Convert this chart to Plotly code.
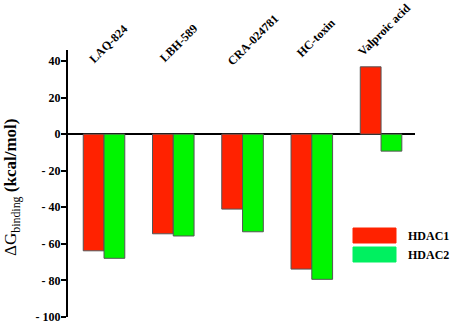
import plotly.graph_objects as go

compounds = ["LAQ-824", "LBH-589", "CRA-024781", "HC-toxin", "Valproic acid"]
hdac1 = [-63.8, -54.5, -41.0, -73.8, 36.8]
hdac2 = [-67.9, -55.7, -53.4, -79.4, -9.3]
series_names = ["HDAC1", "HDAC2"]
ytick_vals = [40, 20, 0, -20, -40, -60, -80, -100]
ytick_text = ["40", "20", "0", "- 20", "- 40", "- 60", "- 80", "- 100"]

RED = "#FF2200"
GREEN = "#00F500"
GREEN_LEG = "#00F060"
FONT = "Liberation Serif"

PL, PR, PT, PB = 68, 415, 50, 317
PW, PH = PR - PL, PB - PT


def px(xp):
    return (xp - PL) / PW


def py(yp):
    return (PB - yp) / PH


xs = list(range(len(compounds)))

fig = go.Figure()
fig.add_trace(go.Bar(x=xs, y=hdac1, name=series_names[0], marker=dict(color=RED, line=dict(color="#555555", width=1)), showlegend=False))
fig.add_trace(go.Bar(x=xs, y=hdac2, name=series_names[1], marker=dict(color=GREEN, line=dict(color="#555555", width=1)), showlegend=False))

# category labels (rotated) placed above the bars
label_dx = [-0.3, -0.27, -0.3, -0.3, -0.42]
label_y = [36.0, 36.5, 34.5, 39.0, 39.8]
for i, name in enumerate(compounds):
    fig.add_annotation(x=i + label_dx[i], y=label_y[i], xref="x", yref="y", text="<b>%s</b>" % name,
                       textangle=-45, showarrow=False, xanchor="left", yanchor="bottom",
                       font=dict(family=FONT, size=12, color="black"))

# manual legend
leg_colors = [RED, GREEN_LEG]
for k, (nm, col) in enumerate(zip(series_names, leg_colors)):
    y0 = 228 + k * 19
    fig.add_shape(type="rect", xref="paper", yref="paper",
                  x0=px(353), x1=px(396), y0=py(y0 + 15), y1=py(y0),
                  fillcolor=col, line=dict(color=col, width=1))
    fig.add_annotation(xref="paper", yref="paper", x=px(406), y=py(y0 + 7.5),
                       text="<b>%s</b>" % nm, showarrow=False, xanchor="left", yanchor="middle",
                       font=dict(family=FONT, size=12, color="black"))

# y-axis title
fig.add_annotation(xref="paper", yref="paper", x=px(12), y=py(188), textangle=-90,
                   text="ΔG<sub>binding</sub><b> (kcal/mol)</b>", showarrow=False,
                   xanchor="center", yanchor="middle",
                   font=dict(family=FONT, size=17, color="black"))

fig.update_layout(
    width=454, height=323,
    margin=dict(l=PL, r=454 - PR, t=PT, b=323 - PB, autoexpand=False),
    paper_bgcolor="white", plot_bgcolor="white",
    barmode="group", bargap=0.4, bargroupgap=0,
    font=dict(family=FONT, color="black"),
    xaxis=dict(range=[-0.52, 4.49], visible=False),
    yaxis=dict(range=[-100, 46], tickvals=ytick_vals, ticktext=ytick_text,
               showgrid=False, showline=True, linecolor="black", linewidth=2,
               ticks="outside", ticklen=5, tickwidth=2, tickcolor="black",
               zeroline=True, zerolinecolor="black", zerolinewidth=1.5, automargin=False,
               ticklabeloverflow="allow", ticklabelstandoff=-2,
               tickfont=dict(family=FONT, size=12, color="black", weight="bold")),
)

fig.write_html("out.html", config={"displayModeBar": False},
               post_script="document.body.style.margin='0px';document.body.style.overflow='hidden';")
